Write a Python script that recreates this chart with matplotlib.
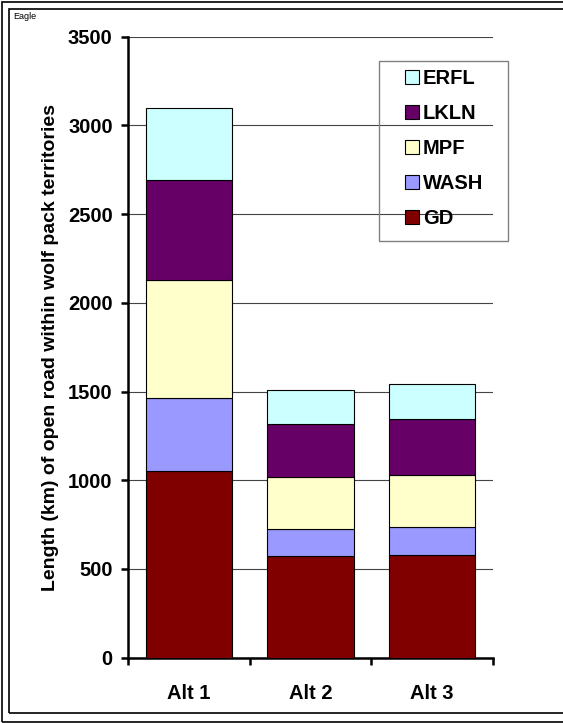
import numpy as np
import matplotlib.pyplot as plt
from matplotlib.patches import Rectangle

plt.rcParams['font.family'] = ['Liberation Sans', 'DejaVu Sans']

# road length (km) per wolf pack group, stacked from bottom to top
alts = ['Alt 1', 'Alt 2', 'Alt 3']
gd = [1055, 575, 580]
wash = [410, 150, 158]
mpf = [665, 293, 291]
lkln = [564, 297, 316]
erfl = [402, 192, 200]

series = [('GD', gd, '#800000'),
          ('WASH', wash, '#9999FF'),
          ('MPF', mpf, '#FFFFCC'),
          ('LKLN', lkln, '#660066'),
          ('ERFL', erfl, '#CCFFFF')]

W, H = 563, 723
fig = plt.figure(figsize=(W / 100, H / 100), dpi=100)
ax = fig.add_axes([128 / W, 65.3 / H, (493 - 128) / W, (686.3 - 65.3) / H])

x = np.arange(len(alts))
bottom = np.zeros(len(alts))
handles = []
for name, vals, col in series:
    b = ax.bar(x, vals, width=0.71, bottom=bottom, color=col,
               edgecolor='black', linewidth=0.8, label=name, zorder=3)
    handles.append(b)
    bottom += np.array(vals)

ax.set_xlim(-0.5, 2.5)
ax.set_ylim(0, 3500)
ax.set_yticks(np.arange(0, 3501, 500))
ax.yaxis.grid(True, color='#444444', linewidth=0.8, zorder=0)
ax.set_axisbelow(True)

for s in ['top', 'right']:
    ax.spines[s].set_visible(False)
for s in ['left', 'bottom']:
    ax.spines[s].set_linewidth(1.8)

# category labels in the middle, tick marks on the boundaries
ax.set_xticks(x)
ax.set_xticklabels(alts, fontsize=14.5, fontweight='bold')
ax.set_xticks([-0.5, 0.5, 1.5, 2.5], minor=True)
ax.tick_params(axis='x', which='major', length=0, pad=19)
ax.tick_params(axis='x', which='minor', length=5, width=1.8, direction='out')
ax.tick_params(axis='y', length=5, width=1.8, pad=6, labelsize=14.5)
for t in ax.get_yticklabels():
    t.set_fontweight('bold')

ax.set_ylabel('Length (km) of open road within wolf pack territories',
              fontsize=14, fontweight='bold')
ax.yaxis.set_label_coords(-0.19, 0.5)

# legend, top entry first
leg = fig.legend(handles[::-1], [s[0] for s in series][::-1],
                 loc='upper left', bbox_to_anchor=(405 / W, 1 - 69 / H),
                 frameon=False, borderpad=0, borderaxespad=0,
                 handlelength=0.7, handleheight=0.7, handletextpad=0.2,
                 labelspacing=0.8, prop={'size': 14.5, 'weight': 'bold'})
fig.add_artist(Rectangle((379 / W, 1 - 241 / H), (508 - 379) / W, 180 / H,
                         transform=fig.transFigure, fill=False,
                         edgecolor='#808080', linewidth=1.0))

# double border around the sheet
fig.add_artist(Rectangle((1.5 / W, 1.5 / H), 600 / W, (H - 3) / H,
                         transform=fig.transFigure, fill=False,
                         edgecolor='black', linewidth=1.2))
fig.add_artist(Rectangle((8.5 / W, 10 / H), 600 / W, (H - 19) / H,
                         transform=fig.transFigure, fill=False,
                         edgecolor='black', linewidth=1.2))

fig.text(13 / W, 1 - 19 / H, 'Eagle', fontsize=6.5)

fig.savefig('out.png', dpi=100)
